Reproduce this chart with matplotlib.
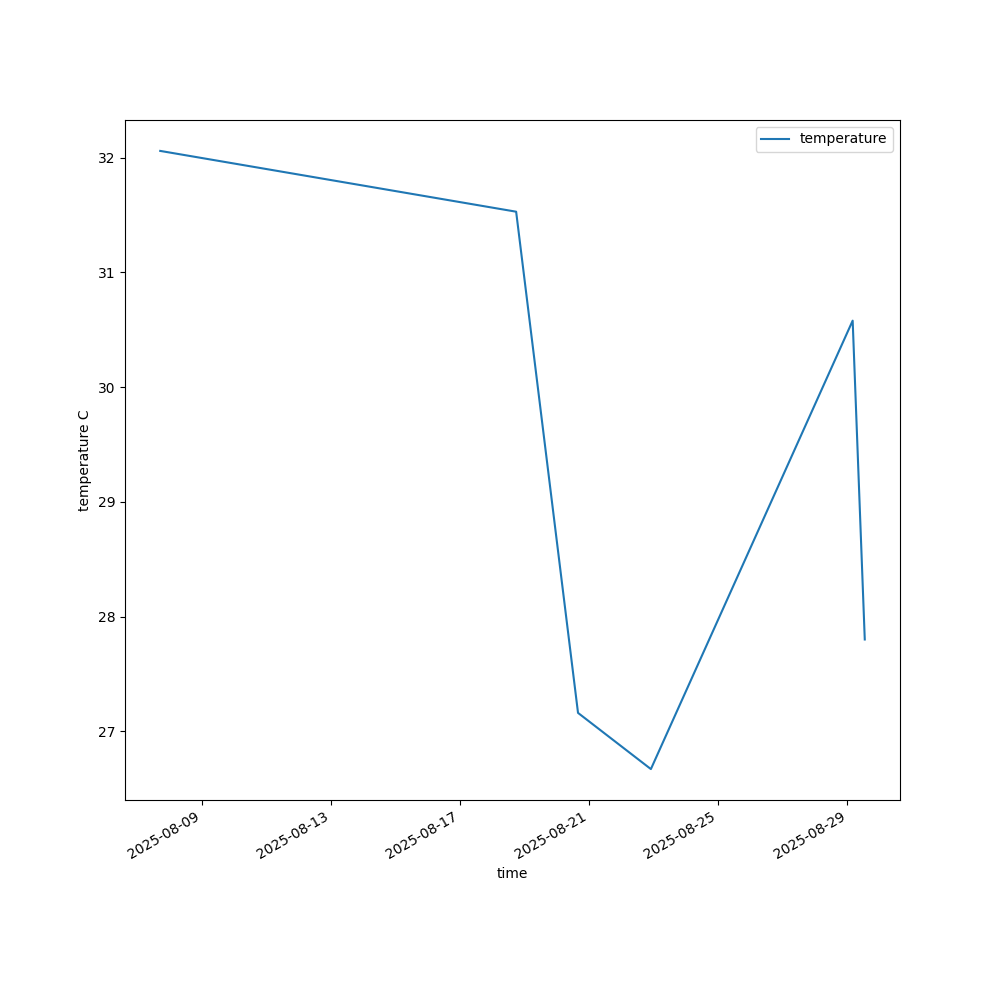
import matplotlib
matplotlib.use("Agg")
import matplotlib.pyplot as plt
import matplotlib.dates as mdates
import pandas as pd

times = pd.to_datetime([
    "2025-08-07 17:15",
    "2025-08-18 17:50",
    "2025-08-20 15:50",
    "2025-08-22 22:00",
    "2025-08-29 04:00",
    "2025-08-29 13:00",
])
temperature = [32.06, 31.53, 27.16, 26.67, 30.58, 27.80]

fig, ax = plt.subplots(figsize=(10, 10), dpi=100)
ax.plot(times, temperature, label="temperature", color="#1f77b4")
ax.xaxis.set_major_locator(mdates.DayLocator(bymonthday=range(1, 32, 4)))
ax.xaxis.set_major_formatter(mdates.DateFormatter("%Y-%m-%d"))
ax.set_xlabel("time")
ax.set_ylabel("temperature C")
ax.legend(loc="upper right")
fig.autofmt_xdate()
fig.savefig("out.png")
